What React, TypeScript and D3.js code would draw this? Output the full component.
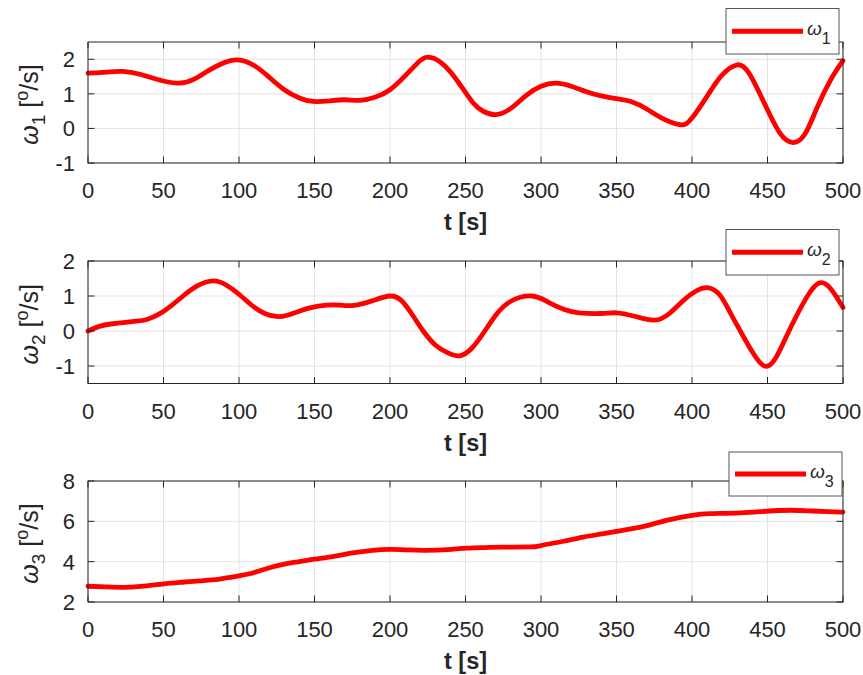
import React from "react";
import * as d3 from "d3";

// ---------- data ----------
const xTicks = [0, 50, 100, 150, 200, 250, 300, 350, 400, 450, 500];

const t1 = [0, 10, 23, 35, 45, 59, 70, 80, 90, 99, 110, 120, 130, 140, 149, 160, 170, 180, 190, 200, 210, 218, 225, 235, 245, 255, 262, 270, 280, 290, 300, 310, 320, 330, 340, 350, 360, 370, 380, 392, 400, 411, 420, 430, 438, 448, 458, 467, 475, 483, 492, 500];
const w1 = [1.6, 1.62, 1.65, 1.56, 1.43, 1.31, 1.42, 1.68, 1.9, 1.98, 1.82, 1.48, 1.12, 0.88, 0.78, 0.8, 0.83, 0.81, 0.9, 1.12, 1.52, 1.88, 2.06, 1.86, 1.35, 0.74, 0.49, 0.4, 0.58, 0.95, 1.22, 1.31, 1.22, 1.06, 0.94, 0.86, 0.77, 0.56, 0.3, 0.11, 0.3, 1.0, 1.55, 1.84, 1.58, 0.72, -0.12, -0.41, -0.15, 0.62, 1.42, 1.96];

const t2 = [0, 8, 15, 23, 32, 39, 47, 55, 63, 72, 83, 92, 100, 108, 117, 127, 137, 147, 158, 167, 176, 188, 200, 208, 215, 222, 230, 238, 246, 254, 262, 270, 280, 294, 305, 315, 325, 340, 350, 362, 375, 385, 395, 403, 410, 418, 425, 432, 440, 448, 455, 462, 470, 478, 485, 492, 500];
const w2 = [0.0, 0.14, 0.2, 0.24, 0.28, 0.33, 0.48, 0.72, 1.0, 1.28, 1.43, 1.3, 1.05, 0.75, 0.5, 0.41, 0.52, 0.66, 0.74, 0.74, 0.73, 0.86, 1.0, 0.85, 0.45, 0.0, -0.4, -0.62, -0.71, -0.5, -0.05, 0.45, 0.85, 1.0, 0.82, 0.62, 0.52, 0.5, 0.52, 0.42, 0.31, 0.5, 0.9, 1.15, 1.24, 1.05, 0.55, 0.0, -0.6, -1.0, -0.8, -0.2, 0.5, 1.1, 1.38, 1.2, 0.67];

const t3 = [0, 12, 23, 35, 50, 62, 74, 86, 96, 107, 118, 130, 140, 150, 162, 174, 187, 200, 212, 224, 238, 251, 263, 275, 293, 300, 314, 328, 339, 350, 368, 383, 400, 412, 432, 449, 465, 478, 490, 500];
const w3 = [2.78, 2.75, 2.73, 2.78, 2.9, 2.98, 3.05, 3.12, 3.25, 3.4, 3.65, 3.88, 4.0, 4.12, 4.25, 4.42, 4.55, 4.61, 4.58, 4.56, 4.6, 4.67, 4.7, 4.72, 4.73, 4.8, 5.0, 5.22, 5.36, 5.5, 5.75, 6.05, 6.3, 6.38, 6.42, 6.5, 6.55, 6.52, 6.48, 6.46];

const yTicks1 = [-1, 0, 1, 2];
const yTicks2 = [-1, 0, 1, 2];
const yTicks3 = [2, 4, 6, 8];
const yDomain1: [number, number] = [-1, 2.5];
const yDomain2: [number, number] = [-1.5, 2];
const yDomain3: [number, number] = [2, 8];
const subs = ["1", "2", "3"];

// ---------- layout ----------
const X0 = 88;
const X1 = 843;
const AX = "#262626";
const GRID = "#e3e3e3";
const FONT = "'Liberation Sans', Arial, Helvetica, sans-serif";

type Panel = {
  t: number[];
  w: number[];
  top: number;
  bottom: number;
  domain: [number, number];
  ticks: number[];
  sub: string;
  legend: { x: number; y: number; w: number; h: number };
};

const panels: Panel[] = [
  { t: t1, w: w1, top: 42, bottom: 163, domain: yDomain1, ticks: yTicks1, sub: subs[0], legend: { x: 726, y: 8.5, w: 113, h: 45.5 } },
  { t: t2, w: w2, top: 261, bottom: 383.5, domain: yDomain2, ticks: yTicks2, sub: subs[1], legend: { x: 726, y: 229.5, w: 113, h: 45.5 } },
  { t: t3, w: w3, top: 481, bottom: 602, domain: yDomain3, ticks: yTicks3, sub: subs[2], legend: { x: 729, y: 452, w: 113, h: 44 } },
];

const xScale = d3.scaleLinear().domain([0, 500]).range([X0, X1]);

function PanelView({ p }: { p: Panel }) {
  const y = d3.scaleLinear().domain(p.domain).range([p.bottom, p.top]);
  const pts: [number, number][] = p.t.map((tt, i) => [tt, p.w[i]]);
  const line = d3
    .line<[number, number]>()
    .x((d) => xScale(d[0]))
    .y((d) => y(d[1]))
    .curve(d3.curveNatural);
  const TL = 6.5;
  const cy = (p.top + p.bottom) / 2 + 2;
  const lg = p.legend;
  return (
    <g>
      {/* grid */}
      {xTicks.map((v) => (
        <line key={"gx" + v} x1={xScale(v)} x2={xScale(v)} y1={p.top} y2={p.bottom} stroke={GRID} strokeWidth={1} />
      ))}
      {p.ticks.map((v) => (
        <line key={"gy" + v} x1={X0} x2={X1} y1={y(v)} y2={y(v)} stroke={GRID} strokeWidth={1} />
      ))}
      {/* curve */}
      <path d={line(pts) || ""} fill="none" stroke="#ff0000" strokeWidth={4.8} strokeLinejoin="round" strokeLinecap="round" />
      {/* box */}
      <rect x={X0} y={p.top} width={X1 - X0} height={p.bottom - p.top} fill="none" stroke={AX} strokeWidth={1} />
      {/* ticks */}
      {xTicks.map((v) => (
        <g key={"tx" + v}>
          <line x1={xScale(v)} x2={xScale(v)} y1={p.bottom} y2={p.bottom - TL} stroke={AX} />
          <line x1={xScale(v)} x2={xScale(v)} y1={p.top} y2={p.top + TL} stroke={AX} />
          <text x={xScale(v)} y={p.bottom + 35} textAnchor="middle" fontSize={22} fill={AX} fontFamily={FONT}>
            {v}
          </text>
        </g>
      ))}
      {p.ticks.map((v) => (
        <g key={"ty" + v}>
          <line x1={X0} x2={X0 + TL} y1={y(v)} y2={y(v)} stroke={AX} />
          <line x1={X1} x2={X1 - TL} y1={y(v)} y2={y(v)} stroke={AX} />
          <text x={75} y={y(v) + 8} textAnchor="end" fontSize={22} fill={AX} fontFamily={FONT}>
            {v < 0 ? "-" + Math.abs(v) : v}
          </text>
        </g>
      ))}
      {/* x label */}
      <text x={(X0 + X1) / 2} y={p.bottom + 67} textAnchor="middle" fontSize={23.5} fontWeight="bold" fill={AX} fontFamily={FONT}>
        t [s]
      </text>
      {/* y label */}
      <text transform={`translate(38,${cy}) rotate(-90)`} textAnchor="middle" fontSize={25} fill={AX} fontFamily={FONT}>
        <tspan fontStyle="italic">ω</tspan>
        <tspan fontSize={19} dy={7}>{p.sub}</tspan>
        <tspan dy={-7}> [</tspan>
        <tspan fontSize={18} dy={-10}>o</tspan>
        <tspan dy={10}>/s]</tspan>
      </text>
      {/* legend */}
      <rect x={lg.x} y={lg.y} width={lg.w} height={lg.h} fill="#fff" stroke="#555" strokeWidth={1} />
      <line x1={lg.x + 6} x2={lg.x + 77} y1={lg.y + lg.h / 2} y2={lg.y + lg.h / 2} stroke="#ff0000" strokeWidth={4.8} />
      <text x={lg.x + 81} y={lg.y + lg.h / 2 + 4} fontSize={19} fill={AX} fontFamily={FONT}>
        <tspan fontStyle="italic">ω</tspan>
        <tspan fontSize={16} dy={9}>{p.sub}</tspan>
      </text>
    </g>
  );
}

export default function App() {
  return (
    <svg width={863} height={675} style={{ position: "absolute", left: 0, top: 0, background: "#fff" }}>
      <rect x={0} y={0} width={863} height={675} fill="#fff" />
      {panels.map((p, i) => (
        <PanelView key={i} p={p} />
      ))}
    </svg>
  );
}
